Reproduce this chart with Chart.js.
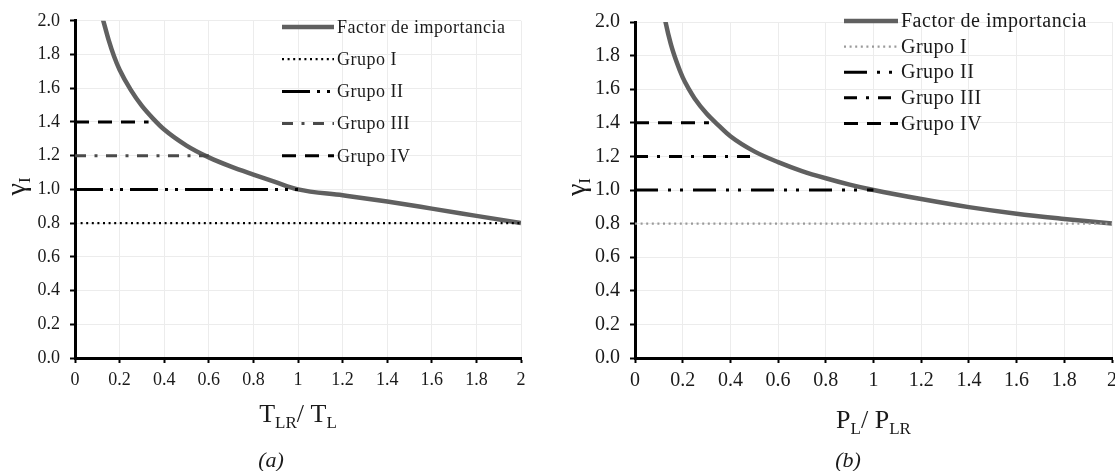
<!DOCTYPE html>
<html>
<head>
<meta charset="utf-8">
<script src="https://cdn.jsdelivr.net/npm/chart.js@4.4.1/dist/chart.umd.min.js"></script>
<style>
  html, body { margin: 0; padding: 0; background: #fff; overflow: hidden; }
  body { width: 1115px; height: 471px; position: relative; }
  .panel { position: absolute; top: 0; }
  #panelA { left: 0; }
  #panelB { left: 557px; }
</style>
</head>
<body>
<div class="panel" id="panelA"><canvas id="chartA" width="557" height="471"></canvas></div>
<div class="panel" id="panelB"><canvas id="chartB" width="570" height="471"></canvas></div>
<script>
// (a) importance factor vs T_LR / T_L
const ratioA  = [0.11, 0.127, 0.15, 0.175, 0.2, 0.25, 0.3, 0.35, 0.4, 0.5, 0.6, 0.7, 0.8, 0.9, 1.0, 1.2, 1.4, 1.6, 1.8, 2.0];
const factorA = [2.08, 2.0, 1.89, 1.79, 1.71, 1.59, 1.495, 1.42, 1.355, 1.26, 1.19, 1.135, 1.088, 1.043, 1.0, 0.965, 0.928, 0.886, 0.843, 0.8];

// (b) importance factor vs P_L / P_LR
const ratioB  = [0.115, 0.128, 0.15, 0.175, 0.2, 0.226, 0.25, 0.3, 0.35, 0.4, 0.5, 0.6, 0.7, 0.8, 0.9, 1.0, 1.2, 1.4, 1.6, 1.8, 2.0];
const factorB = [2.1, 2.0, 1.87, 1.76, 1.67, 1.6, 1.545, 1.455, 1.385, 1.32, 1.23, 1.166, 1.113, 1.07, 1.032, 1.0, 0.946, 0.898, 0.859, 0.828, 0.8];

// group reference lines: level and where each one stops
const groupLevels = [0.8, 1.0, 1.2, 1.4];
const groupEndA = [2, 1, 0.6, 0.33];
const groupEndB = [2, 1, 0.5, 0.31];

const seriesLabels = ['Factor de importancia', 'Grupo I', 'Grupo II', 'Grupo III', 'Grupo IV'];

const SERIF = '"Liberation Serif", "Times New Roman", serif';

function pts(xs, ys) {
    return xs.map((x, i) => ({ x: x, y: ys[i] }));
}

function groupLine(level, end) {
    return [{ x: 0, y: level }, { x: end, y: level }];
}

// legend drawn inside the plot area, top right
const insideLegend = {
    id: 'insideLegend',
    afterDraw(chart, args, o) {
        const ctx = chart.ctx;
        ctx.save();
        ctx.font = o.fontSize + 'px ' + SERIF;
        ctx.letterSpacing = o.spacing;
        ctx.textBaseline = 'middle';
        chart.data.datasets.forEach((ds, i) => {
            const y = o.top + i * o.rowGap;
            ctx.beginPath();
            ctx.setLineDash(ds.borderDash || []);
            ctx.lineWidth = ds.borderWidth;
            ctx.strokeStyle = ds.borderColor;
            ctx.moveTo(o.left, y);
            ctx.lineTo(o.left + o.sample, y);
            ctx.stroke();
            ctx.setLineDash([]);
            ctx.fillStyle = '#1a1a1a';
            ctx.fillText(ds.label, o.left + o.sample + 3, y + 1);
        });
        ctx.restore();
    }
};

// draws a run of text pieces, some of them as subscripts
function drawRich(ctx, parts, cx, baseline) {
    let total = 0;
    parts.forEach(p => {
        ctx.font = p[1] + 'px ' + SERIF;
        total += ctx.measureText(p[0]).width;
    });
    let x = cx - total / 2;
    parts.forEach(p => {
        ctx.font = p[1] + 'px ' + SERIF;
        ctx.fillText(p[0], x, baseline + p[2]);
        x += ctx.measureText(p[0]).width;
    });
}

const axisTitles = {
    id: 'axisTitles',
    afterDraw(chart, args, o) {
        const ctx = chart.ctx;
        const area = chart.chartArea;
        ctx.save();
        ctx.fillStyle = '#1a1a1a';
        ctx.textBaseline = 'alphabetic';
        drawRich(ctx, o.xTitle, (area.left + area.right) / 2, o.xBase);

        ctx.save();
        ctx.translate(o.yX, (area.top + area.bottom) / 2 - 3);
        ctx.rotate(-Math.PI / 2);
        drawRich(ctx, [['γ', 28, 0], ['I', 17, 5]], 0, 8);
        ctx.restore();

        ctx.font = 'italic 22px ' + SERIF;
        ctx.textAlign = 'center';
        ctx.fillText(o.caption, o.captionX, 467);
        ctx.restore();
    }
};

function makeChart(id, xs, ys, ends, cfg) {
    const datasets = [
        {
            label: seriesLabels[0],
            data: pts(xs, ys),
            borderColor: '#606060',
            borderWidth: 4.5,
            cubicInterpolationMode: 'monotone',
            order: 1
        },
        {
            label: seriesLabels[1],
            data: groupLine(groupLevels[0], ends[0]),
            borderColor: cfg.groupOneColor,
            borderWidth: 2.2,
            borderDash: [2, 3.6],
            order: 0
        },
        {
            label: seriesLabels[2],
            data: groupLine(groupLevels[1], ends[1]),
            borderColor: '#000',
            borderWidth: 3,
            borderDash: cfg.dashTwo,
            order: 0
        },
        {
            label: seriesLabels[3],
            data: groupLine(groupLevels[2], ends[2]),
            borderColor: cfg.groupThreeColor,
            borderWidth: 3,
            borderDash: cfg.dashThree,
            order: 0
        },
        {
            label: seriesLabels[4],
            data: groupLine(groupLevels[3], ends[3]),
            borderColor: '#000',
            borderWidth: 3,
            borderDash: [14, 9],
            order: 0
        }
    ];
    datasets.forEach(d => { d.pointRadius = 0; d.fill = false; d.clip = 0; });

    const tickFont = { family: SERIF, size: cfg.tickSize };

    return new Chart(document.getElementById(id), {
        type: 'line',
        data: { datasets: datasets },
        plugins: [insideLegend, axisTitles],
        options: {
            responsive: false,
            animation: false,
            events: [],
            layout: { padding: { top: 17, right: cfg.padRight, bottom: 0, left: 0 } },
            scales: {
                x: {
                    type: 'linear',
                    min: 0,
                    max: 2,
                    afterFit: s => { s.height = 113; },
                    ticks: {
                        stepSize: 0.2,
                        font: tickFont,
                        color: '#1a1a1a',
                        padding: 6,
                        maxRotation: 0,
                        callback: v => String(Number(v.toFixed(1)))
                    },
                    grid: { color: '#ececec', lineWidth: 1, tickColor: '#000', tickLength: 5, tickWidth: 2 },
                    border: { color: '#000', width: 3 }
                },
                y: {
                    min: 0,
                    max: 2,
                    afterFit: s => { s.width = cfg.yWidth; },
                    ticks: {
                        stepSize: 0.2,
                        font: tickFont,
                        color: '#1a1a1a',
                        padding: 10,
                        callback: v => v.toFixed(1)
                    },
                    grid: { color: '#ececec', lineWidth: 1, tickColor: '#000', tickLength: 5, tickWidth: 2 },
                    border: { color: '#000', width: 3 }
                }
            },
            plugins: {
                legend: { display: false },
                tooltip: { enabled: false },
                insideLegend: cfg.legend,
                axisTitles: cfg.titles
            }
        }
    });
}

makeChart('chartA', ratioA, factorA, groupEndA, {
    groupOneColor: '#000',
    groupThreeColor: '#4a4a4a',
    dashTwo: [28, 7, 3, 7, 3, 7],
    dashThree: [11, 8.5, 3, 8.5],
    tickSize: 18,
    padRight: 36,
    yWidth: 75,
    legend: { left: 282, top: 27, rowGap: 32.2, sample: 52, fontSize: 18, spacing: '0.5px' },
    titles: {
        xTitle: [['T', 26, 0], ['LR', 17, 6], ['/ T', 26, 0], ['L', 17, 6]],
        xBase: 422,
        yX: 17,
        caption: '(a)',
        captionX: 271
    }
});

makeChart('chartB', ratioB, factorB, groupEndB, {
    groupOneColor: '#9a9a9a',
    groupThreeColor: '#000',
    dashTwo: [23, 10, 3, 9, 3, 10],
    dashThree: [13, 9, 3, 9],
    tickSize: 20,
    padRight: 15,
    yWidth: 78,
    legend: { left: 287, top: 21, rowGap: 25.6, sample: 54, fontSize: 20, spacing: '0.5px' },
    titles: {
        xTitle: [['P', 26, 0], ['L', 17, 6], ['/ P', 26, 0], ['LR', 17, 6]],
        xBase: 428,
        yX: 20,
        caption: '(b)',
        captionX: 291
    }
});
</script>
</body>
</html>
